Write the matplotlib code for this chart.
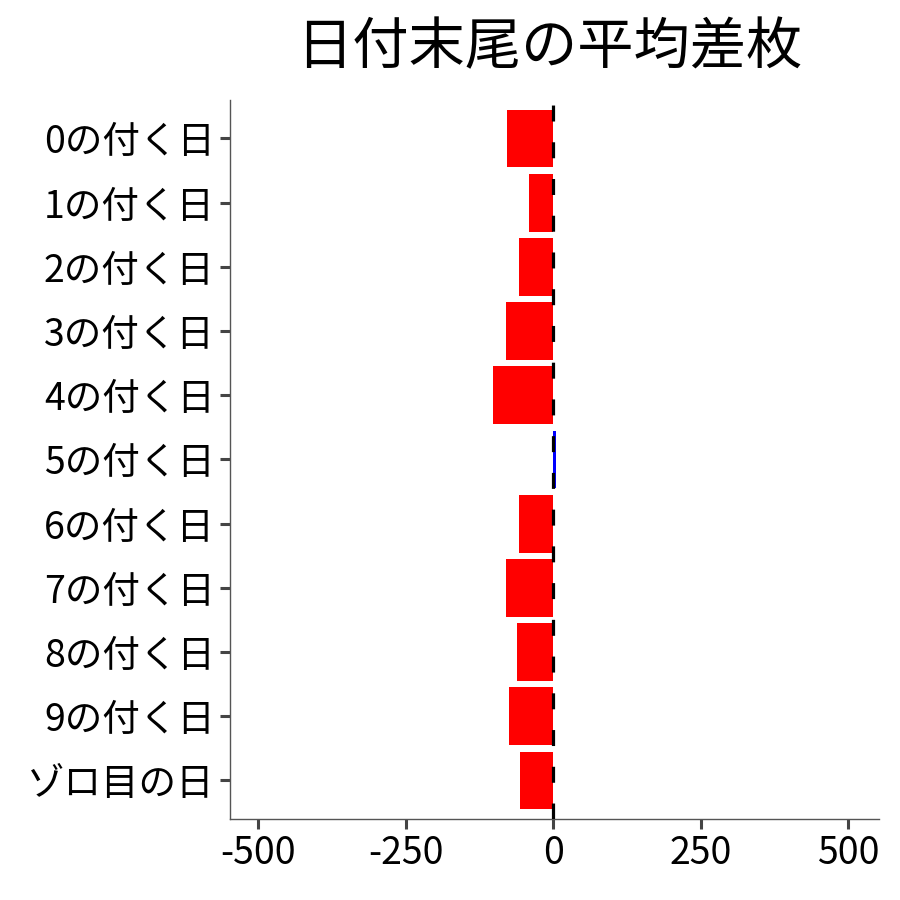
import matplotlib
matplotlib.use("Agg")
import matplotlib.pyplot as plt

plt.rcParams['font.family'] = ['Noto Sans CJK JP', 'DejaVu Sans']

# 日付末尾ごとの平均差枚
labels = ['0の付く日', '1の付く日', '2の付く日', '3の付く日', '4の付く日',
          '5の付く日', '6の付く日', '7の付く日', '8の付く日', '9の付く日', 'ゾロ目の日']
values = [-78, -42, -59, -80, -102, 4, -58, -80, -61, -76, -56]
xticks = [-500, -250, 0, 250, 500]

fig = plt.figure(figsize=(9, 9), dpi=100)
ax = fig.add_axes([0.2556, 0.09, 0.7211, 0.799])

colors = ['red' if v < 0 else 'blue' for v in values]
pos = list(range(len(labels)))
ax.barh(pos, values, height=0.9, color=colors, zorder=2)
ax.axvline(0, color='black', linewidth=2.3, linestyle=(0, (5, 6.5)), zorder=3)

ax.set_xlim(-548, 552)
ax.set_ylim(len(labels) - 0.4, -0.6)
ax.set_yticks(pos)
ax.set_yticklabels(labels)
ax.set_xticks(xticks)
ax.set_xticklabels([str(t) for t in xticks])

for s in ['top', 'right']:
    ax.spines[s].set_visible(False)
for s in ['left', 'bottom']:
    ax.spines[s].set_color('#555555')
    ax.spines[s].set_linewidth(1.0)
ax.tick_params(axis='both', colors='#444444', labelcolor='black',
               labelsize=27, length=7, width=2.2, pad=4)

fig.suptitle('日付末尾の平均差枚', fontsize=40.5, y=0.978, x=0.61)

fig.savefig('out.png', dpi=100)
